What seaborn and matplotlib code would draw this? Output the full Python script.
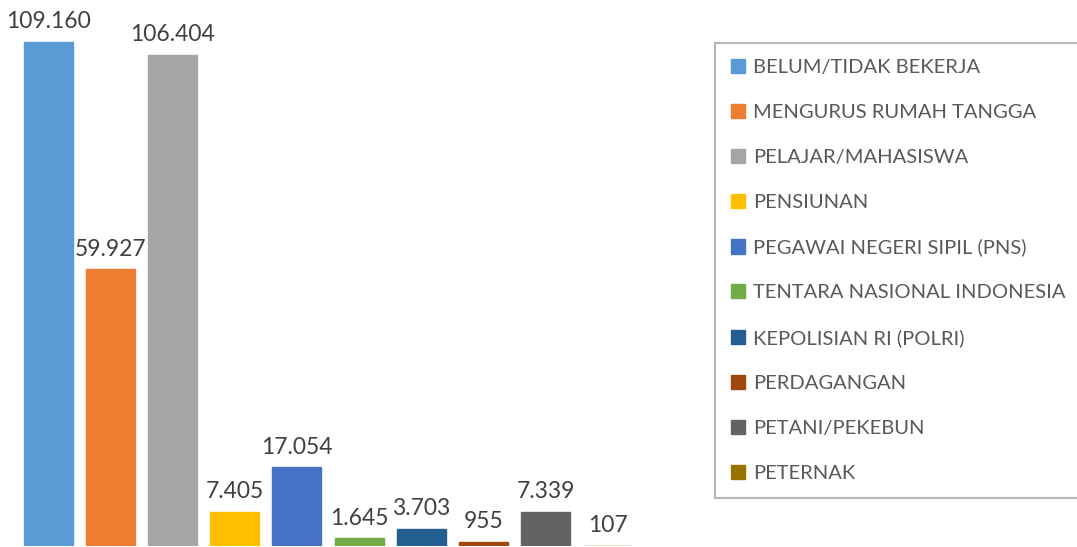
import matplotlib
matplotlib.use("Agg")
import matplotlib.pyplot as plt
import seaborn as sns

# data
categories = ["BELUM/TIDAK BEKERJA", "MENGURUS RUMAH TANGGA", "PELAJAR/MAHASISWA",
              "PENSIUNAN", "PEGAWAI NEGERI SIPIL (PNS)", "TENTARA NASIONAL INDONESIA",
              "KEPOLISIAN RI (POLRI)", "PERDAGANGAN", "PETANI/PEKEBUN", "PETERNAK"]
values = [109160, 59927, 106404, 7405, 17054, 1645, 3703, 955, 7339, 107]
colors = ["#5B9BD5", "#ED7D31", "#A5A5A5", "#FFC000", "#4472C4",
          "#70AD47", "#255E91", "#9E480E", "#636363", "#997300"]

sns.set_style("white")
plt.rcParams["font.family"] = ["Lato", "DejaVu Sans"]

fig = plt.figure(figsize=(10.77, 5.47), dpi=100)
ax = fig.add_axes([17 / 1077, 1 / 547, 622 / 1077, 546 / 547])

sns.barplot(x=categories, y=values, hue=categories, palette=colors,
            width=0.79, saturation=1, legend=True, linewidth=1, ax=ax)

# edge in same colour so the tiny bar still shows as a thin line
for p in ax.patches:
    p.set_edgecolor(p.get_facecolor())

ax.set_xlim(-0.5, 9.5)
ax.set_ylim(0, 109160 * 546 / 504)
ax.set_axis_off()

# value labels with dot as thousands separator
for cont, v in zip(ax.containers, values):
    ax.bar_label(cont, labels=[f"{v:,}".replace(",", ".")], padding=7,
                 fontsize=16.5, color="#404040")

handles, labels = ax.get_legend_handles_labels()
ax.get_legend().remove()
leg = fig.legend(handles, labels, loc="upper left",
                 bbox_to_anchor=(715 / 1077, 1 - 43 / 547),
                 frameon=True, fancybox=False, edgecolor="#A6A6A6",
                 fontsize=14.5, labelcolor="#595959",
                 handlelength=0.7, handleheight=0.7, handletextpad=0.4,
                 labelspacing=1.38, borderpad=0.8, borderaxespad=0)
leg.get_frame().set_linewidth(1.5)

fig.savefig("out.png", dpi=100)
